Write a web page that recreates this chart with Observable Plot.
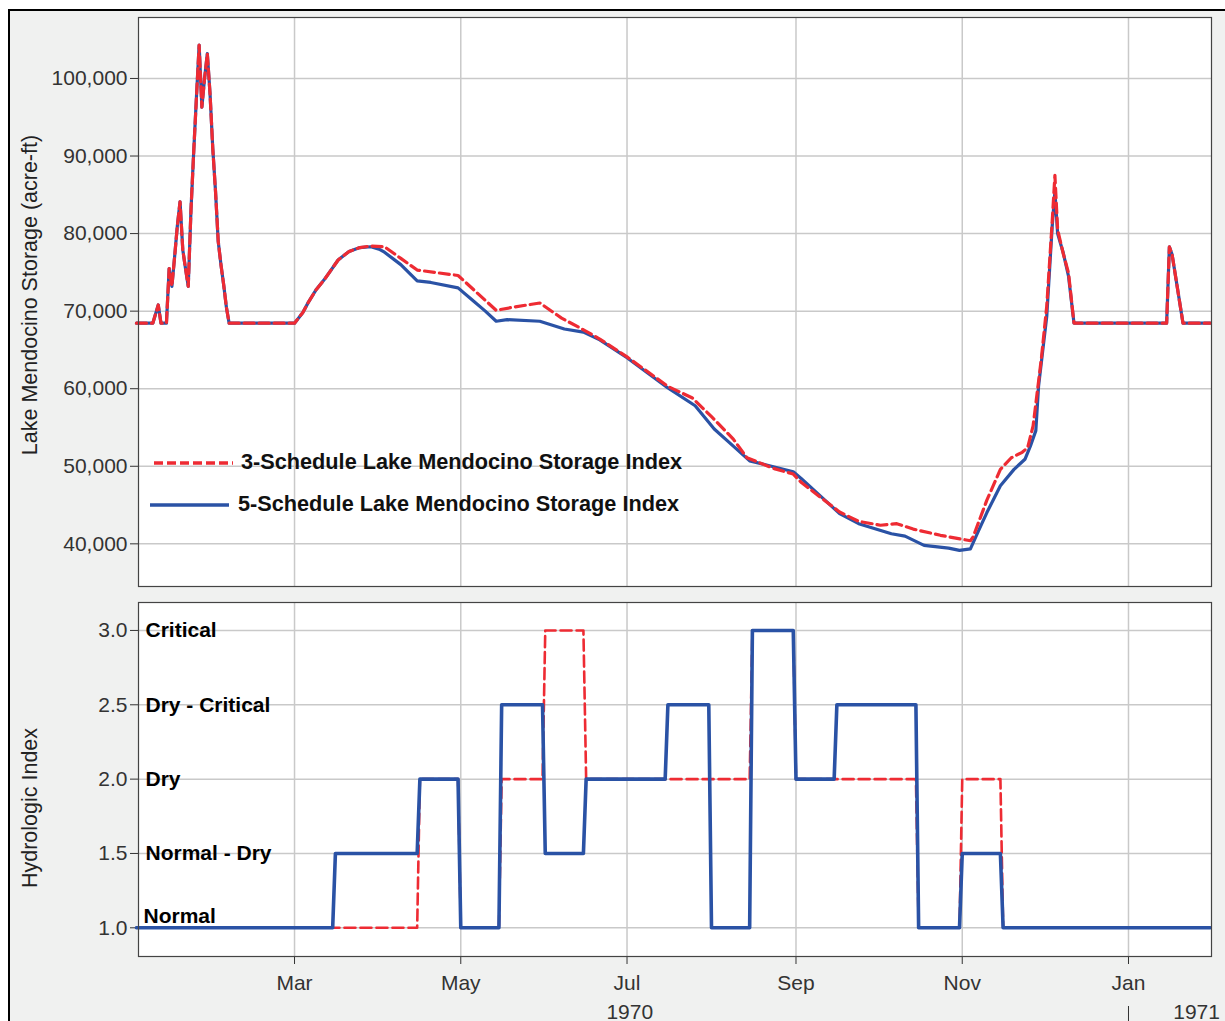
<!DOCTYPE html>
<html><head><meta charset="utf-8">
<script src="https://cdn.jsdelivr.net/npm/d3@7"></script>
<script src="https://cdn.jsdelivr.net/npm/@observablehq/plot@0.6"></script>
<style>
html,body{margin:0;padding:0;background:#fff;width:1225px;height:1021px;overflow:hidden;font-family:"Liberation Sans",Arial,sans-serif;}
#panel{position:absolute;left:8px;top:9px;width:1300px;height:1100px;background:#f0f1f0;border-left:2px solid #000;border-top:2px solid #000;}
.abs{position:absolute;left:0;top:0;}
.ytitle{position:absolute;font-size:21.5px;color:#222;white-space:nowrap;transform:translate(-50%,-50%) rotate(-90deg);}
.legtext{position:absolute;font-weight:bold;font-size:21.7px;line-height:24px;color:#111;white-space:nowrap;}
.legsvg{position:absolute;overflow:visible;}
</style></head><body>
<div id="panel"></div>
<div id="top" class="abs"></div>
<div id="bottom" class="abs" style="top:590px"></div>
<div class="ytitle" style="left:30px;top:295px">Lake Mendocino Storage (acre-ft)</div>
<div class="ytitle" style="left:30px;top:808px">Hydrologic Index</div>
<div id="legend"></div>
<script>
// ---------- DATA ----------
const seriesNames = ["3-Schedule Lake Mendocino Storage Index", "5-Schedule Lake Mendocino Storage Index"];
const seriesColors = ["#ee2b33", "#2a52a5"];

// 5-Schedule storage (acre-ft)
const storageDates5 = ["1970-01-02","1970-01-08","1970-01-10","1970-01-11","1970-01-13","1970-01-14","1970-01-15","1970-01-16","1970-01-17","1970-01-18","1970-01-19","1970-01-20","1970-01-21","1970-01-22","1970-01-23","1970-01-24","1970-01-25","1970-01-26","1970-01-27","1970-01-28","1970-01-29","1970-01-30","1970-01-31","1970-02-01","1970-02-02","1970-02-03","1970-02-04","1970-02-05","1970-03-01","1970-03-04","1970-03-06","1970-03-09","1970-03-12","1970-03-17","1970-03-21","1970-03-25","1970-03-29","1970-04-01","1970-04-03","1970-04-09","1970-04-15","1970-04-20","1970-04-30","1970-05-05","1970-05-10","1970-05-14","1970-05-18","1970-05-30","1970-06-08","1970-06-15","1970-06-21","1970-07-01","1970-07-16","1970-07-26","1970-08-02","1970-08-09","1970-08-15","1970-08-23","1970-08-31","1970-09-03","1970-09-08","1970-09-17","1970-09-24","1970-10-06","1970-10-11","1970-10-18","1970-10-27","1970-10-31","1970-11-04","1970-11-07","1970-11-10","1970-11-15","1970-11-20","1970-11-24","1970-11-26","1970-11-28","1970-11-29","1970-12-02","1970-12-04","1970-12-05","1970-12-06","1970-12-08","1970-12-10","1970-12-12","1971-01-15","1971-01-16","1971-01-17","1971-01-21","1971-01-31"];
const storage5 = [68450,68450,70800,68450,68450,75500,73200,77000,81000,84100,77900,75500,73200,83000,90500,97500,104300,96300,100000,103200,98000,91000,85500,79000,76000,73400,70500,68450,68450,69800,71100,72800,74100,76600,77700,78200,78300,78000,77600,76000,73900,73700,73000,71500,70000,68700,68900,68700,67700,67300,66300,64000,60100,57800,54800,52600,50700,50000,49300,48400,46800,43900,42600,41300,41000,39800,39450,39150,39350,41700,44000,47500,49600,50900,52600,54600,60300,69300,80900,85400,80000,77600,74500,68450,68450,78300,77300,68450,68450];

// 3-Schedule storage (acre-ft)
const storageDates3 = ["1970-01-02","1970-01-08","1970-01-10","1970-01-11","1970-01-13","1970-01-14","1970-01-15","1970-01-16","1970-01-17","1970-01-18","1970-01-19","1970-01-20","1970-01-21","1970-01-22","1970-01-23","1970-01-24","1970-01-25","1970-01-26","1970-01-27","1970-01-28","1970-01-29","1970-01-30","1970-01-31","1970-02-01","1970-02-02","1970-02-03","1970-02-04","1970-02-05","1970-03-01","1970-03-04","1970-03-06","1970-03-09","1970-03-12","1970-03-17","1970-03-21","1970-03-25","1970-03-29","1970-04-03","1970-04-09","1970-04-15","1970-04-30","1970-05-14","1970-05-20","1970-05-30","1970-06-07","1970-06-15","1970-06-21","1970-07-01","1970-07-16","1970-07-25","1970-08-01","1970-08-09","1970-08-14","1970-08-24","1970-08-31","1970-09-03","1970-09-17","1970-09-24","1970-10-02","1970-10-08","1970-10-14","1970-10-24","1970-11-04","1970-11-05","1970-11-10","1970-11-15","1970-11-19","1970-11-23","1970-11-25","1970-11-27","1970-11-30","1970-12-02","1970-12-04","1970-12-05","1970-12-06","1970-12-08","1970-12-10","1970-12-12","1971-01-15","1971-01-16","1971-01-17","1971-01-21","1971-01-31"];
const storage3 = [68450,68450,70800,68450,68450,75500,73200,77000,81000,84100,77900,75500,73200,83000,90500,97500,104300,96300,100000,103200,98000,91000,85500,79000,76000,73400,70500,68450,68450,69800,71100,72800,74100,76600,77700,78200,78400,78300,76800,75300,74600,70100,70500,71050,69100,67600,66400,64100,60300,58800,56400,53500,51100,49700,49000,47900,44100,42900,42400,42600,41900,41100,40400,40900,45600,49600,51100,51800,52400,55200,63800,70600,81500,87500,80500,77500,74900,68450,68450,78300,77300,68450,68450];

// Hydrologic index: semi-monthly segments (start date, value)
const indexStarts5 = ["1970-01-02","1970-03-16","1970-04-16","1970-05-01","1970-05-16","1970-06-01","1970-06-16","1970-07-16","1970-08-01","1970-08-16","1970-09-01","1970-09-16","1970-10-16","1970-11-01","1970-11-16"];
const indexValues5 = [1, 1.5, 2, 1, 2.5, 1.5, 2, 2.5, 1, 3, 2, 2.5, 1, 1.5, 1];
const indexStarts3 = ["1970-01-02","1970-04-16","1970-05-01","1970-05-16","1970-06-01","1970-06-16","1970-08-16","1970-09-01","1970-10-16","1970-11-01","1970-11-16"];
const indexValues3 = [1, 2, 1, 2, 3, 2, 3, 2, 1, 2, 1];
const indexEnd = "1971-01-31";

// Ticks and labels
const monthTicks = ["1970-03-01","1970-05-01","1970-07-01","1970-09-01","1970-11-01","1971-01-01"];
const yearLabelDates = ["1970-07-02","1971-01-26"];
const yearBoundary = ["1971-01-01"];
const storageTicks = [40000, 50000, 60000, 70000, 80000, 90000, 100000];
const indexTicks = [1, 1.5, 2, 2.5, 3];
const indexCategories = ["Normal", "Normal - Dry", "Dry", "Dry - Critical", "Critical"];

// ---------- BUILD ----------
const parse = d3.utcParse("%Y-%m-%d");
const xDomain = [new Date(Date.UTC(1970,0,2,18)), new Date(Date.UTC(1971,0,31,11))];
const DAY = 864e5;
const rows = (dates, vals) => dates.map((d,i) => ({date: parse(d), v: vals[i]}));
const steps = (starts, vals) => {
  const out = [];
  starts.forEach((s,i) => {
    const a = parse(s);
    const b = i + 1 < starts.length ? new Date(+parse(starts[i+1]) - DAY) : parse(indexEnd);
    out.push({date: a, v: vals[i]}, {date: b, v: vals[i]});
  });
  return out;
};
const s5 = rows(storageDates5, storage5), s3 = rows(storageDates3, storage3);
const i5 = steps(indexStarts5, indexValues5), i3 = steps(indexStarts3, indexValues3);
const mTicks = monthTicks.map(parse);
const levels = indexTicks.map((v,i) => ({v, label: indexCategories[i]}));

const font = '"Liberation Sans", Arial, sans-serif';
const gridStyle = {stroke: "#c9c9c9", strokeOpacity: 1, strokeWidth: 1.5};

const topPlot = Plot.plot({
  width: 1225, height: 590,
  marginLeft: 138, marginRight: 14, marginTop: 17, marginBottom: 4,
  style: {background: "transparent", fontFamily: font, fontSize: "21px", color: "#333", overflow: "visible"},
  x: {type: "utc", domain: xDomain, axis: null},
  y: {domain: [34500, 107860], axis: null},
  marks: [
    Plot.frame({fill: "white", stroke: null}),
    Plot.gridX(mTicks, gridStyle),
    Plot.gridY(storageTicks, gridStyle),
    Plot.axisY(storageTicks, {tickSize: 8, tickPadding: 3, tickFormat: d3.format(","), label: null, fontSize: 21}),
    Plot.line(s5, {x: "date", y: "v", stroke: seriesColors[1], strokeWidth: 3.2}),
    Plot.line(s3, {x: "date", y: "v", stroke: seriesColors[0], strokeWidth: 3.2, strokeDasharray: "10,5"}),
    Plot.frame({stroke: "#444", strokeWidth: 1.2})
  ]
});
document.getElementById("top").append(topPlot);

const bottomPlot = Plot.plot({
  width: 1225, height: 431,
  marginLeft: 138, marginRight: 14, marginTop: 12, marginBottom: 65,
  style: {background: "transparent", fontFamily: font, fontSize: "21px", color: "#333", overflow: "visible"},
  x: {type: "utc", domain: xDomain, axis: null},
  y: {domain: [0.807, 3.188], axis: null},
  marks: [
    Plot.frame({fill: "white", stroke: null}),
    Plot.gridX(mTicks, gridStyle),
    Plot.gridY(indexTicks, gridStyle),
    Plot.axisY(indexTicks, {tickSize: 8, tickPadding: 3, tickFormat: d3.format(".1f"), label: null, fontSize: 21}),
    Plot.axisX(mTicks, {tickSize: 8, tickPadding: 11, tickFormat: d3.utcFormat("%b"), label: null, fontSize: 21}),
    Plot.axisX(yearLabelDates.map(parse), {tickSize: 0, tickPadding: 48, tickFormat: d3.utcFormat("%Y"), label: null, fontSize: 21}),
    Plot.axisX(yearBoundary.map(parse), {tickSize: 16, dy: 50, tickFormat: () => "", label: null}),
    Plot.line(i3, {x: "date", y: "v", stroke: seriesColors[0], strokeWidth: 2.6, strokeDasharray: "11,5"}),
    Plot.line(i5, {x: "date", y: "v", stroke: seriesColors[1], strokeWidth: 3.6}),
    Plot.text(levels.filter(d => d.v > 1), {y: "v", text: "label", frameAnchor: "left", textAnchor: "start", dx: 7, fontWeight: "bold", fontSize: 21, fill: "#000"}),
    Plot.text(levels.filter(d => d.v === 1), {y: "v", text: "label", frameAnchor: "left", textAnchor: "start", dx: 5, dy: -12, fontWeight: "bold", fontSize: 21, fill: "#000"}),
    Plot.frame({stroke: "#444", strokeWidth: 1.2})
  ]
});
document.getElementById("bottom").append(bottomPlot);

// ---------- LEGEND (HTML overlay) ----------
const legend = document.getElementById("legend");
const legItems = [
  {name: seriesNames[0], color: seriesColors[0], dash: "9,4", lx: 152, ly: 463, tx: 241},
  {name: seriesNames[1], color: seriesColors[1], dash: null, lx: 148, ly: 505, tx: 238}
];
const NS = "http://www.w3.org/2000/svg";
legItems.forEach(it => {
  const svg = document.createElementNS(NS, "svg");
  svg.setAttribute("class", "legsvg");
  svg.setAttribute("width", 90); svg.setAttribute("height", 24);
  svg.style.left = it.lx + "px"; svg.style.top = (it.ly - 8) + "px";
  const defs = document.createElementNS(NS, "defs");
  const f = document.createElementNS(NS, "filter");
  f.setAttribute("id", "blur" + it.lx); f.setAttribute("x", "-10%"); f.setAttribute("y", "-200%"); f.setAttribute("width", "120%"); f.setAttribute("height", "500%");
  const g = document.createElementNS(NS, "feGaussianBlur"); g.setAttribute("stdDeviation", "1.6");
  f.append(g); defs.append(f); svg.append(defs);
  const sh = document.createElementNS(NS, "line");
  sh.setAttribute("x1", 4); sh.setAttribute("x2", 82); sh.setAttribute("y1", 14); sh.setAttribute("y2", 14);
  sh.setAttribute("stroke", "#999"); sh.setAttribute("stroke-width", 5); sh.setAttribute("filter", `url(#blur${it.lx})`);
  if (it.dash) sh.setAttribute("stroke-dasharray", it.dash);
  const ln = document.createElementNS(NS, "line");
  ln.setAttribute("x1", 2); ln.setAttribute("x2", 81); ln.setAttribute("y1", 8); ln.setAttribute("y2", 8);
  ln.setAttribute("stroke", it.color); ln.setAttribute("stroke-width", 3.5);
  if (it.dash) ln.setAttribute("stroke-dasharray", it.dash);
  svg.append(sh, ln);
  legend.append(svg);
  const t = document.createElement("div");
  t.className = "legtext"; t.textContent = it.name;
  t.style.left = it.tx + "px"; t.style.top = (it.ly - 13) + "px";
  legend.append(t);
});
</script>
</body></html>
